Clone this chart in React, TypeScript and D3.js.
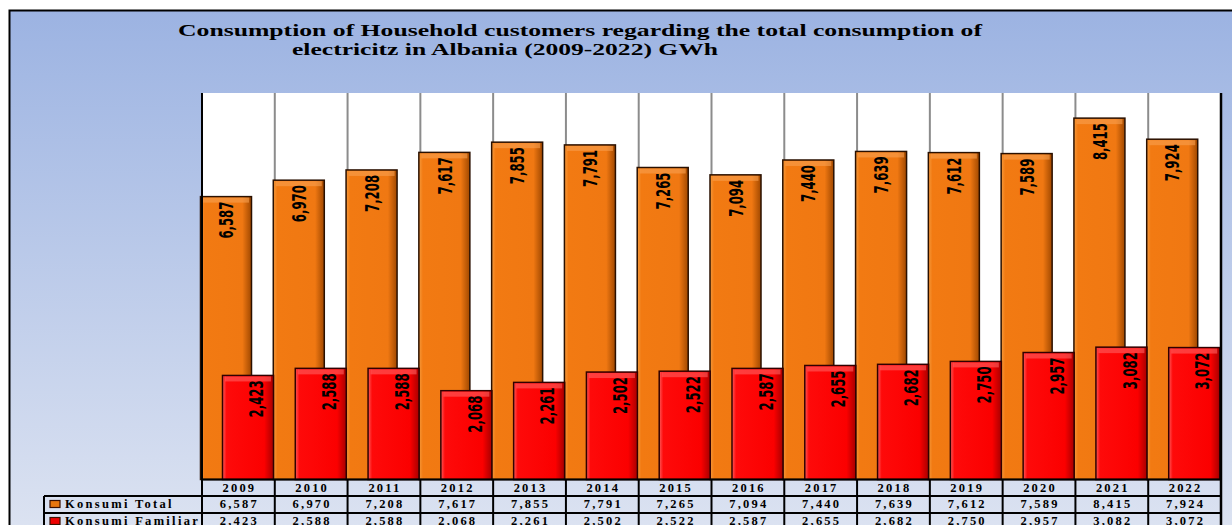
import React from "react";
import * as d3 from "d3";

const years = ["2009","2010","2011","2012","2013","2014","2015","2016","2017","2018","2019","2020","2021","2022"];
const totalValues = [6587,6970,7208,7617,7855,7791,7265,7094,7440,7639,7612,7589,8415,7924];
const householdValues = [2423,2588,2588,2068,2261,2502,2522,2587,2655,2682,2750,2957,3082,3072];
const seriesNames = ["Konsumi Total", "Konsumi Familiar"];
const titleLines = [
  "Consumption of Household customers regarding the total consumption of",
  "electricitz in Albania (2009-2022) GWh",
];

const W = 1232, H = 525;
const plotL = 202, plotR = 1221, plotT = 93, plotB = 479.5;

const fmt = d3.format(",");

export default function App() {
  const x = d3.scaleBand<string>().domain(years).range([plotL, plotR]).padding(0);
  const y = d3.scaleLinear().domain([0, 9000]).range([plotB, plotT]);
  const bw = x.bandwidth();
  const barW = 51;
  const rowY = [479.5, 496, 513, 530];
  const labelFont = "'Liberation Sans Narrow', 'DejaVu Sans Condensed', 'DejaVu Sans', sans-serif";
  const serif = "'Liberation Serif', 'Times New Roman', serif";

  return (
    <svg width={W} height={H} style={{ position: "absolute", left: 0, top: 0, display: "block" }}>
      <defs>
        <linearGradient id="bg" x1="0" y1="0" x2="0" y2="1">
          <stop offset="0" stopColor="#9cb3e2" />
          <stop offset="1" stopColor="#dfe5f2" />
        </linearGradient>
        <linearGradient id="og" x1="0" y1="0" x2="1" y2="0">
          <stop offset="0" stopColor="#f59a3c" />
          <stop offset="0.08" stopColor="#f27a12" />
          <stop offset="0.82" stopColor="#f07812" />
          <stop offset="1" stopColor="#a04800" />
        </linearGradient>
        <linearGradient id="rg" x1="0" y1="0" x2="1" y2="0">
          <stop offset="0" stopColor="#ff5a5a" />
          <stop offset="0.08" stopColor="#fe0a0a" />
          <stop offset="0.82" stopColor="#fb0000" />
          <stop offset="1" stopColor="#a80000" />
        </linearGradient>
      </defs>
      <rect x={0} y={0} width={W} height={H} fill="#ffffff" />
      <rect x={9.5} y={10.5} width={W + 20} height={H + 20} fill="url(#bg)" stroke="#000" strokeWidth={2} />

      {titleLines.map((t, i) => (
        <text key={i} x={i === 0 ? 178 : 292} y={i === 0 ? 36 : 55} fontFamily={serif} fontWeight="bold"
          fontSize={16} textLength={i === 0 ? 804 : 426} lengthAdjust="spacingAndGlyphs" fill="#000">{t}</text>
      ))}

      <rect x={plotL} y={plotT} width={plotR - plotL} height={plotB - plotT} fill="#ffffff" />
      {years.slice(1).map((yr) => (
        <line key={yr} x1={x(yr)!} x2={x(yr)!} y1={plotT} y2={plotB} stroke="#8c8c8c" strokeWidth={2} />
      ))}

      {years.map((yr, i) => {
        const x0 = x(yr)!;
        const t = totalValues[i];
        const yt = y(t);
        return (
          <g key={"o" + yr}>
            <rect x={x0 - 1.5} y={yt} width={barW} height={plotB - yt} fill="url(#og)" stroke="#2a1000" strokeWidth={1.5} />
            <rect x={x0 + 1} y={yt + 1} width={barW - 5} height={5} fill="#f8a050" opacity={0.6} />
            <text transform={`translate(${x0 - 1.5 + barW / 2},${yt + 5}) rotate(-90)`} textAnchor="end" dy="0.36em"
              fontFamily={labelFont} fontWeight="bold" fontSize={20} textLength={37} lengthAdjust="spacingAndGlyphs" fill="#000">{fmt(t)}</text>
          </g>
        );
      })}
      {years.map((yr, i) => {
        const x0 = x(yr)!;
        const v = householdValues[i];
        const yv = y(v);
        return (
          <g key={"r" + yr}>
            <rect x={x0 + 20.5} y={yv} width={barW} height={plotB - yv} fill="url(#rg)" stroke="#300000" strokeWidth={1.5} />
            <rect x={x0 + 23} y={yv + 1} width={barW - 5} height={5} fill="#ff6060" opacity={0.6} />
            <text transform={`translate(${x0 + 20.5 + barW / 2 + 8},${yv + 5}) rotate(-90)`} textAnchor="end" dy="0.36em"
              fontFamily={labelFont} fontWeight="bold" fontSize={20} textLength={37} lengthAdjust="spacingAndGlyphs" fill="#000">{fmt(v)}</text>
          </g>
        );
      })}

      {/* plot frame */}
      <line x1={plotL} x2={plotL} y1={plotT} y2={H} stroke="#000" strokeWidth={2} />
      <line x1={plotR} x2={plotR} y1={plotT} y2={H} stroke="#000" strokeWidth={2.5} />

      {/* data table */}
      {rowY.slice(0, 3).map((ry, i) => (
        <line key={"h" + i} x1={i === 0 ? plotL : 44} x2={plotR} y1={ry} y2={ry} stroke="#000" strokeWidth={2} />
      ))}
      <line x1={44} x2={44} y1={496} y2={H} stroke="#000" strokeWidth={2} />
      {years.slice(1).map((yr) => (
        <line key={"v" + yr} x1={x(yr)!} x2={x(yr)!} y1={plotB} y2={H} stroke="#000" strokeWidth={2} />
      ))}
      {years.map((yr, i) => (
        <g key={"t" + yr} fontFamily={serif} fontWeight="bold" fontSize={12.5} letterSpacing={2.2} textAnchor="middle" fill="#000">
          <text x={x(yr)! + bw / 2 + 1} y={491.5}>{yr}</text>
          <text x={x(yr)! + bw / 2 + 1} y={508}>{fmt(totalValues[i])}</text>
          <text x={x(yr)! + bw / 2 + 1} y={524.5}>{fmt(householdValues[i])}</text>
        </g>
      ))}
      {seriesNames.map((s, i) => (
        <g key={s}>
          <rect x={50} y={i === 0 ? 500.5 : 517.5} width={10} height={7} fill={i === 0 ? "#e8760e" : "#ee0000"} stroke="#3a1000" strokeWidth={1.2} />
          <text x={65} y={i === 0 ? 508 : 524.5} fontFamily={serif} fontWeight="bold" fontSize={12.5} letterSpacing={2.3} fill="#000">{s}</text>
        </g>
      ))}
    </svg>
  );
}
